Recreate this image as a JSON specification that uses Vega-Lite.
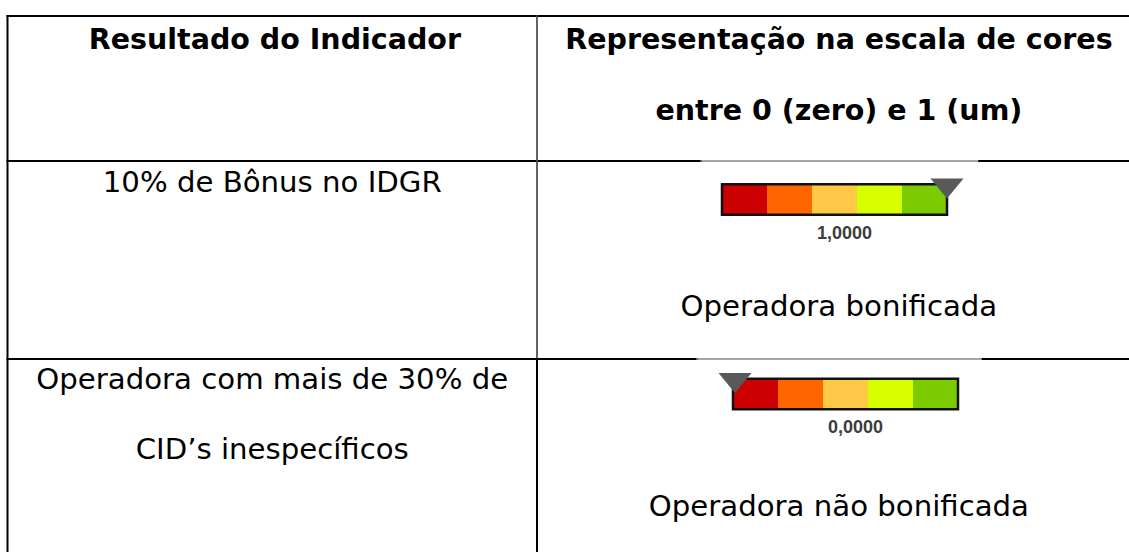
{
  "$schema": "https://vega.github.io/schema/vega-lite/v6.json",
  "width": 1129,
  "height": 552,
  "padding": 0,
  "autosize": {"type": "none"},
  "background": "#ffffff",
  "config": {"view": {"stroke": null}},
  "datasets": {
    "hlines": [
      {"row": 0, "from": 0, "to": 2, "weight": "thick"},
      {"row": 1, "from": 0, "to": 1.277, "weight": "thick"},
      {"row": 1, "from": 1.277, "to": 1.747, "weight": "thin"},
      {"row": 1, "from": 1.747, "to": 2, "weight": "thick"},
      {"row": 2, "from": 0, "to": 1.27, "weight": "thick"},
      {"row": 2, "from": 1.27, "to": 1.753, "weight": "thin"},
      {"row": 2, "from": 1.753, "to": 2, "weight": "thick"}
    ],
    "vlines": [
      {"col": 0, "from": 0, "to": 3, "weight": "thick"},
      {"col": 1, "from": 0, "to": 2, "weight": "mid"},
      {"col": 1, "from": 2, "to": 3, "weight": "thick"}
    ],
    "cells": [
      {"kind": "header", "col": 0.505, "row": 0.166, "text": "Resultado do Indicador"},
      {"kind": "header", "col": 1.51, "row": 0.166, "text": "Representação na escala de cores"},
      {"kind": "header", "col": 1.51, "row": 0.652, "text": "entre 0 (zero) e 1 (um)"},
      {"kind": "body", "col": 0.5, "row": 1.111, "text": "10% de Bônus no IDGR"},
      {"kind": "body", "col": 1.51, "row": 1.737, "text": "Operadora bonificada"},
      {"kind": "body", "col": 0.5, "row": 2.109, "text": "Operadora com mais de 30% de"},
      {"kind": "body", "col": 0.5, "row": 2.471, "text": "CID’s inespecíficos"},
      {"kind": "body", "col": 1.51, "row": 2.767, "text": "Operadora não bonificada"}
    ],
    "bands": [
      {"gauge": "g1", "row": 1, "band": 1, "lo": 0, "hi": 0.2},
      {"gauge": "g1", "row": 1, "band": 2, "lo": 0.2, "hi": 0.4},
      {"gauge": "g1", "row": 1, "band": 3, "lo": 0.4, "hi": 0.6},
      {"gauge": "g1", "row": 1, "band": 4, "lo": 0.6, "hi": 0.8},
      {"gauge": "g1", "row": 1, "band": 5, "lo": 0.8, "hi": 1},
      {"gauge": "g2", "row": 2, "band": 1, "lo": 0, "hi": 0.2},
      {"gauge": "g2", "row": 2, "band": 2, "lo": 0.2, "hi": 0.4},
      {"gauge": "g2", "row": 2, "band": 3, "lo": 0.4, "hi": 0.6},
      {"gauge": "g2", "row": 2, "band": 4, "lo": 0.6, "hi": 0.8},
      {"gauge": "g2", "row": 2, "band": 5, "lo": 0.8, "hi": 1}
    ],
    "gauges": [
      {"gauge": "g1", "row": 1, "min": 0, "max": 1, "value": 1, "label": "1,0000"},
      {"gauge": "g2", "row": 2, "min": 0, "max": 1, "value": 0, "label": "0,0000"}
    ]
  },
  "layer": [
    {
      "data": {"name": "hlines"},
      "mark": {"type": "rule", "strokeCap": "square"},
      "encoding": {
        "x": {"field": "from", "type": "quantitative", "scale": {"domain": [0, 1, 2], "range": [7.5, 537, 1129], "nice": false, "zero": false}, "axis": null},
        "x2": {"field": "to"},
        "y": {"field": "row", "type": "quantitative", "scale": {"domain": [0, 1, 2, 3], "range": [16, 161, 359, 552], "nice": false, "zero": false}, "axis": null},
        "strokeWidth": {"field": "weight", "type": "ordinal", "scale": {"domain": ["thick", "mid", "thin"], "range": [2, 1.5, 1]}, "legend": null},
        "color": {"field": "weight", "type": "nominal", "scale": {"domain": ["thick", "mid", "thin"], "range": ["#000000", "#4d4d4d", "#8a8a8a"]}, "legend": null}
      }
    },
    {
      "data": {"name": "vlines"},
      "mark": {"type": "rule", "strokeCap": "square"},
      "encoding": {
        "x": {"field": "col", "type": "quantitative", "scale": {"domain": [0, 1, 2], "range": [7.5, 537, 1129], "nice": false, "zero": false}, "axis": null},
        "y": {"field": "from", "type": "quantitative", "scale": {"domain": [0, 1, 2, 3], "range": [16, 161, 359, 552], "nice": false, "zero": false}, "axis": null},
        "y2": {"field": "to"},
        "strokeWidth": {"field": "weight", "type": "ordinal", "scale": {"domain": ["thick", "mid", "thin"], "range": [2, 1.5, 1]}, "legend": null},
        "color": {"field": "weight", "type": "nominal", "scale": {"domain": ["thick", "mid", "thin"], "range": ["#000000", "#4d4d4d", "#8a8a8a"]}, "legend": null}
      }
    },
    {
      "data": {"name": "cells"},
      "transform": [{"filter": "datum.kind === 'header'"}],
      "mark": {"type": "text", "font": "DejaVu Sans", "fontWeight": "bold", "fontSize": 28.5, "color": "#000000", "align": "center", "baseline": "middle"},
      "encoding": {
        "x": {"field": "col", "type": "quantitative", "scale": {"domain": [0, 1, 2], "range": [7.5, 537, 1129], "nice": false, "zero": false}, "axis": null},
        "y": {"field": "row", "type": "quantitative", "scale": {"domain": [0, 1, 2, 3], "range": [16, 161, 359, 552], "nice": false, "zero": false}, "axis": null},
        "text": {"field": "text", "type": "nominal"}
      }
    },
    {
      "data": {"name": "cells"},
      "transform": [{"filter": "datum.kind === 'body'"}],
      "mark": {"type": "text", "font": "DejaVu Sans", "fontSize": 29.2, "color": "#000000", "align": "center", "baseline": "middle"},
      "encoding": {
        "x": {"field": "col", "type": "quantitative", "scale": {"domain": [0, 1, 2], "range": [7.5, 537, 1129], "nice": false, "zero": false}, "axis": null},
        "y": {"field": "row", "type": "quantitative", "scale": {"domain": [0, 1, 2, 3], "range": [16, 161, 359, 552], "nice": false, "zero": false}, "axis": null},
        "text": {"field": "text", "type": "nominal"}
      }
    },
    {
      "layer": [
        {
          "data": {"name": "bands"},
          "transform": [{"filter": "datum.gauge === 'g1'"}],
          "mark": {"type": "bar", "orient": "horizontal", "size": 30.5},
          "encoding": {
            "x": {"field": "lo", "type": "quantitative", "scale": {"domain": [0, 1], "range": [722, 947], "nice": false, "zero": false}, "axis": null},
            "x2": {"field": "hi"},
            "y": {"field": "row", "type": "quantitative", "scale": {"domain": [1, 2], "range": [194.5, 399], "nice": false, "zero": false}, "axis": null},
            "color": {"field": "band", "type": "ordinal", "scale": {"domain": [1, 2, 3, 4, 5], "range": ["#cc0000", "#ff6600", "#ffc846", "#d7ff00", "#7ccb00"]}, "legend": null}
          }
        },
        {
          "data": {"name": "gauges"},
          "transform": [{"filter": "datum.gauge === 'g1'"}],
          "mark": {"type": "bar", "orient": "horizontal", "size": 30.5, "filled": false, "stroke": "#111111", "strokeWidth": 2.5},
          "encoding": {
            "x": {"field": "min", "type": "quantitative", "scale": {"domain": [0, 1], "range": [722, 947], "nice": false, "zero": false}, "axis": null},
            "x2": {"field": "max"},
            "y": {"field": "row", "type": "quantitative", "scale": {"domain": [1, 2], "range": [194.5, 399], "nice": false, "zero": false}, "axis": null}
          }
        },
        {
          "data": {"name": "gauges"},
          "transform": [{"filter": "datum.gauge === 'g1'"}],
          "mark": {"type": "point", "shape": "M-1,-0.6L1,-0.6L0,0.6Z", "size": 1089, "filled": true, "color": "#595959", "opacity": 1, "strokeWidth": 0, "yOffset": -11},
          "encoding": {
            "x": {"field": "value", "type": "quantitative", "scale": {"domain": [0, 1], "range": [722, 947], "nice": false, "zero": false}, "axis": null},
            "y": {"field": "row", "type": "quantitative", "scale": {"domain": [1, 2], "range": [194.5, 399], "nice": false, "zero": false}, "axis": null}
          }
        },
        {
          "data": {"name": "gauges"},
          "transform": [{"filter": "datum.gauge === 'g1'"}],
          "mark": {"type": "text", "font": "Liberation Sans", "fontWeight": "bold", "fontSize": 18, "color": "#3c3c3c", "align": "center", "baseline": "middle", "dx": 10, "dy": 34},
          "encoding": {
            "x": {"datum": 0.5, "type": "quantitative", "scale": {"domain": [0, 1], "range": [722, 947], "nice": false, "zero": false}, "axis": null},
            "y": {"field": "row", "type": "quantitative", "scale": {"domain": [1, 2], "range": [194.5, 399], "nice": false, "zero": false}, "axis": null},
            "text": {"field": "label", "type": "nominal"}
          }
        }
      ]
    },
    {
      "layer": [
        {
          "data": {"name": "bands"},
          "transform": [{"filter": "datum.gauge === 'g2'"}],
          "mark": {"type": "bar", "orient": "horizontal", "size": 30.5},
          "encoding": {
            "x": {"field": "lo", "type": "quantitative", "scale": {"domain": [0, 1], "range": [733, 958], "nice": false, "zero": false}, "axis": null},
            "x2": {"field": "hi"},
            "y": {"field": "row", "type": "quantitative", "scale": {"domain": [1, 2], "range": [194.5, 399], "nice": false, "zero": false}, "axis": null},
            "color": {"field": "band", "type": "ordinal", "scale": {"domain": [1, 2, 3, 4, 5], "range": ["#cc0000", "#ff6600", "#ffc846", "#d7ff00", "#7ccb00"]}, "legend": null}
          }
        },
        {
          "data": {"name": "gauges"},
          "transform": [{"filter": "datum.gauge === 'g2'"}],
          "mark": {"type": "bar", "orient": "horizontal", "size": 30.5, "filled": false, "stroke": "#111111", "strokeWidth": 2.5},
          "encoding": {
            "x": {"field": "min", "type": "quantitative", "scale": {"domain": [0, 1], "range": [733, 958], "nice": false, "zero": false}, "axis": null},
            "x2": {"field": "max"},
            "y": {"field": "row", "type": "quantitative", "scale": {"domain": [1, 2], "range": [194.5, 399], "nice": false, "zero": false}, "axis": null}
          }
        },
        {
          "data": {"name": "gauges"},
          "transform": [{"filter": "datum.gauge === 'g2'"}],
          "mark": {"type": "point", "shape": "M-1,-0.6L1,-0.6L0,0.6Z", "size": 1089, "filled": true, "color": "#595959", "opacity": 1, "strokeWidth": 0, "yOffset": -11, "xOffset": 2},
          "encoding": {
            "x": {"field": "value", "type": "quantitative", "scale": {"domain": [0, 1], "range": [733, 958], "nice": false, "zero": false}, "axis": null},
            "y": {"field": "row", "type": "quantitative", "scale": {"domain": [1, 2], "range": [194.5, 399], "nice": false, "zero": false}, "axis": null}
          }
        },
        {
          "data": {"name": "gauges"},
          "transform": [{"filter": "datum.gauge === 'g2'"}],
          "mark": {"type": "text", "font": "Liberation Sans", "fontWeight": "bold", "fontSize": 18, "color": "#3c3c3c", "align": "center", "baseline": "middle", "dx": 10, "dy": 34},
          "encoding": {
            "x": {"datum": 0.5, "type": "quantitative", "scale": {"domain": [0, 1], "range": [733, 958], "nice": false, "zero": false}, "axis": null},
            "y": {"field": "row", "type": "quantitative", "scale": {"domain": [1, 2], "range": [194.5, 399], "nice": false, "zero": false}, "axis": null},
            "text": {"field": "label", "type": "nominal"}
          }
        }
      ]
    }
  ],
  "resolve": {"scale": {"x": "independent", "y": "independent", "color": "independent", "strokeWidth": "independent"}}
}
